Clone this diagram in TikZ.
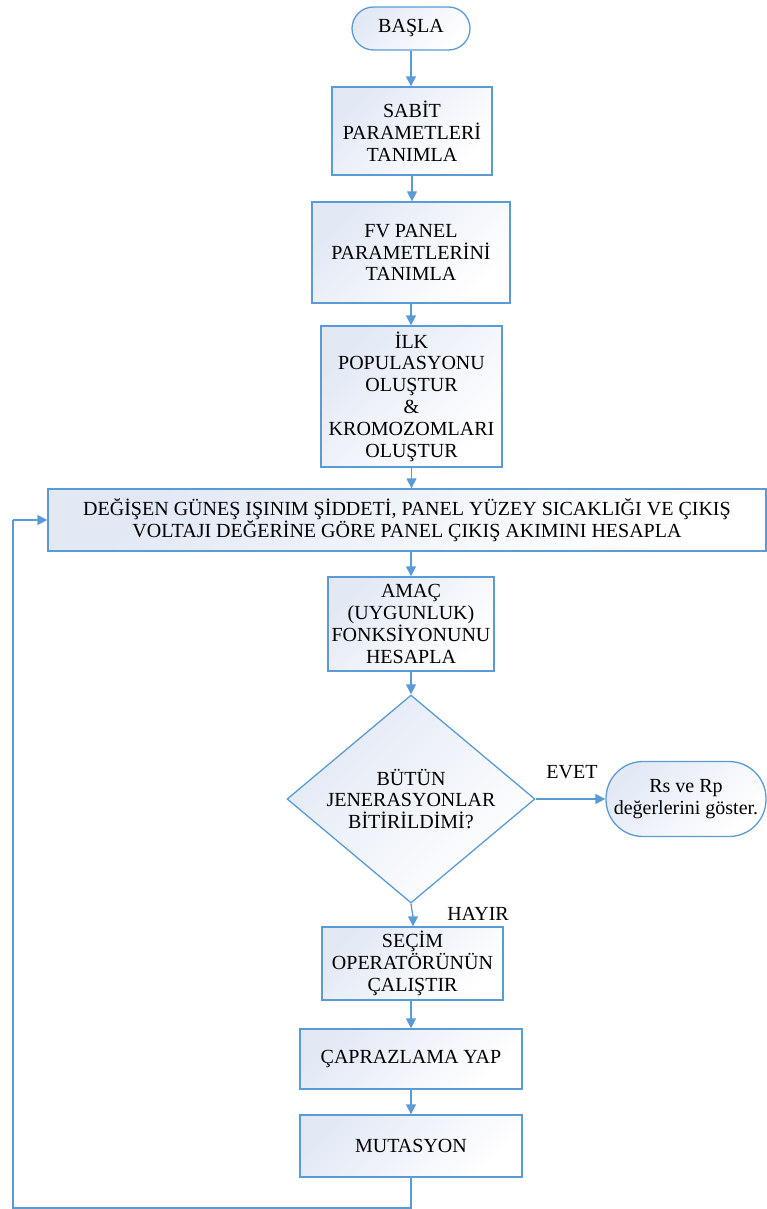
\documentclass[tikz,border=0pt]{standalone}
\usepackage{fontspec}
\setmainfont{Liberation Serif}
\usetikzlibrary{shapes.geometric,arrows.meta}
\definecolor{bordc}{HTML}{5B9BD5}
\definecolor{fillc}{HTML}{E2E9F5}
\tikzset{
  boxbase/.style={draw=bordc, line width=1.3pt, top color=fillc, bottom color=white, shading angle=45,
    align=center, font=\fontsize{20}{21.8}\selectfont, inner sep=0pt},
  procbox/.style={boxbase, rectangle},
  termbox/.style={boxbase, rectangle},
  decbox/.style={boxbase, diamond, aspect=1.19},
  conn/.style={draw=bordc, line width=1.3pt, -{Triangle[length=10pt,width=10pt]}},
  plainconn/.style={draw=bordc, line width=1.3pt},
  lbl/.style={font=\fontsize{20}{22}\selectfont, inner sep=0pt}
}
\begin{document}
\begin{tikzpicture}[x=1pt,y=-1pt]
\useasboundingbox (0,0) rectangle (767,1209);
\node[termbox, rounded corners=21.5pt, minimum width=118pt, minimum height=43pt] (start) at (411,28.5) {BAŞLA};
\node[procbox, minimum width=160pt, minimum height=88pt] (sabit) at (412,131) {SABİT\\PARAMETLERİ\\TANIMLA};
\node[procbox, minimum width=198pt, minimum height=101pt] (fv) at (411,252.5) {FV PANEL\\PARAMETLERİNİ\\TANIMLA};
\node[procbox, minimum width=181pt, minimum height=141pt] (ilk) at (411.5,396.5) {İLK\\POPULASYONU\\OLUŞTUR\\\&\\KROMOZOMLARI\\OLUŞTUR};
\node[procbox, minimum width=718pt, minimum height=62pt] (deg) at (407,520) {DEĞİŞEN GÜNEŞ IŞINIM ŞİDDETİ, PANEL YÜZEY SICAKLIĞI VE ÇIKIŞ\\VOLTAJI DEĞERİNE GÖRE PANEL ÇIKIŞ AKIMINI HESAPLA};
\node[procbox, minimum width=166pt, minimum height=94pt] (amac) at (411,624) {AMAÇ\\(UYGUNLUK)\\FONKSİYONUNU\\HESAPLA};
\node[decbox, minimum width=248pt, minimum height=208pt] (dec) at (411,799) {BÜTÜN\\JENERASYONLAR\\BİTİRİLDİMİ?};
\node[termbox, rounded corners=37pt, minimum width=160pt, minimum height=75pt] (rs) at (686,799) {Rs ve Rp\\değerlerini göster.};
\node[procbox, minimum width=181pt, minimum height=73pt] (secim) at (412.5,963.5) {SEÇİM\\OPERATÖRÜNÜN\\ÇALIŞTIR};
\node[procbox, minimum width=222pt, minimum height=60pt] (capraz) at (411,1059) {ÇAPRAZLAMA YAP};
\node[procbox, minimum width=222pt, minimum height=62pt] (mut) at (411,1146) {MUTASYON};
\node[lbl] (evet) at (572,772) {EVET};
\node[lbl] (hayir) at (478,914) {HAYIR};
\coordinate (c1) at (411,1208);
\coordinate (c2) at (13,1208);
\coordinate (c3) at (13,520);
\draw[conn] (start.south) -- (sabit.north -| start.south);
\draw[conn] (sabit.south) -- (fv.north -| sabit.south);
\draw[conn] (fv.south) -- (ilk.north -| fv.south);
\draw[conn] (ilk.south) -- (deg.north -| ilk.south);
\draw[conn] (deg.south -| amac.north) -- (amac.north);
\draw[conn] (amac.south) -- (dec.north);
\draw[conn] (dec.east) -- (rs.west);
\draw[conn] (dec.south) .. controls (412,912) and (413,915) .. (secim.north -| 413,0);
\draw[conn] (secim.south -| capraz.north) -- (capraz.north);
\draw[conn] (capraz.south) -- (mut.north);
\draw[plainconn] (mut.south) -- (c1) -- (c2) -- (c3);
\draw[conn] (c3) -- (deg.west);
\end{tikzpicture}
\end{document}
